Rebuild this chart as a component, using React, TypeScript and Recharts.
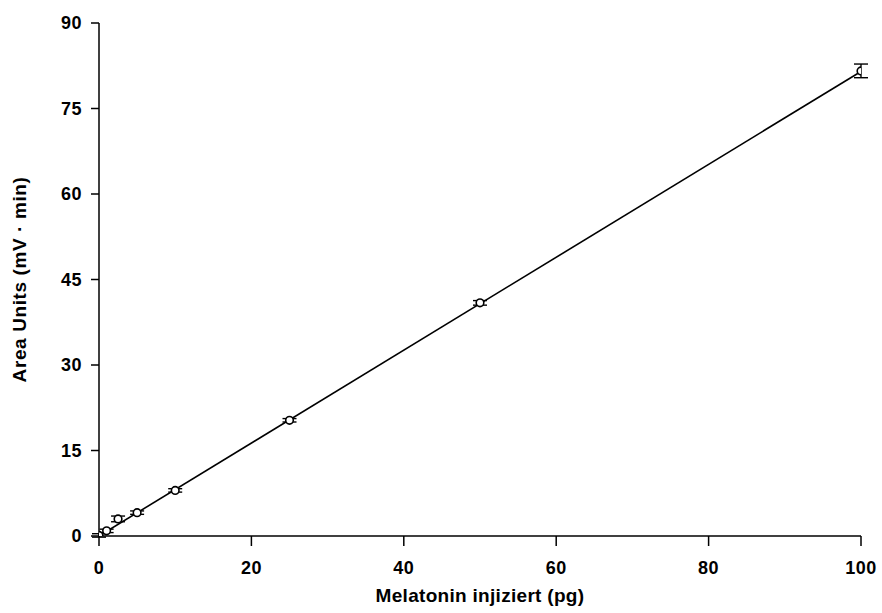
import React from 'react';
import {
  ComposedChart,
  XAxis,
  YAxis,
  Scatter,
  Line,
  ErrorBar,
  Label,
} from 'recharts';

// Injected melatonin amount (pg) and measured peak area (mV · min)
const doses = [0, 1, 2.5, 5, 10, 25, 50, 100];
const areaMeans = [0.1, 0.9, 3.0, 4.1, 8.0, 20.3, 40.9, 81.6];
const areaErrors = [0.3, 0.3, 0.5, 0.3, 0.3, 0.3, 0.4, 1.2];

// Calibration line end points
const fitDoses = [0, 100];
const fitAreas = [0, 81.5];

const xTicks = [0, 20, 40, 60, 80, 100];
const yTicks = [0, 15, 30, 45, 60, 75, 90];

const points = doses.map((x, i) => ({ x, y: areaMeans[i], err: areaErrors[i] }));
const fitLine = fitDoses.map((x, i) => ({ x, y: fitAreas[i] }));

const FONT = '"Liberation Sans", Arial, Helvetica, sans-serif';
const tickStyle = {
  fill: '#000',
  fontSize: 18,
  fontWeight: 700,
  fontFamily: FONT,
  letterSpacing: 0.5,
};

const OpenCircle = (props: any) => {
  const { cx, cy } = props;
  if (cx == null || cy == null) return null;
  return <circle cx={cx} cy={cy} r={3.8} fill="#fff" stroke="#000" strokeWidth={1.6} />;
};

// Rotated y-axis title centred on the axis box
const YTitle = (props: any) => {
  const { viewBox } = props;
  const x = viewBox.x + 19;
  const y = viewBox.y + viewBox.height / 2;
  return (
    <text
      x={x}
      y={y}
      transform={`rotate(-90, ${x}, ${y})`}
      textAnchor="middle"
      dominantBaseline="central"
      style={{ fill: '#000', fontSize: 19, fontWeight: 700, fontFamily: FONT, letterSpacing: 0.6 }}
    >
      Area Units (mV · min)
    </text>
  );
};

export default function App() {
  return (
    <div style={{ position: 'absolute', left: 0, top: 0, background: '#fff' }}>
      <ComposedChart
        width={882}
        height={613}
        margin={{ top: 23, right: 21, bottom: 0, left: 0 }}
      >
        <XAxis
          dataKey="x"
          type="number"
          domain={[0, 100]}
          ticks={xTicks}
          allowDataOverflow
          height={77}
          stroke="#000"
          strokeWidth={1.5}
          tickSize={10}
          tickMargin={15}
          tick={tickStyle}
          tickLine={{ stroke: '#000', strokeWidth: 1.5 }}
        >
          <Label
            value="Melatonin injiziert (pg)"
            position="insideBottom"
            offset={11}
            style={{ fill: '#000', fontSize: 19, fontWeight: 700, fontFamily: FONT, letterSpacing: 0.3 }}
          />
        </XAxis>
        <YAxis
          dataKey="y"
          type="number"
          domain={[0, 90]}
          ticks={yTicks}
          allowDataOverflow
          width={99}
          stroke="#000"
          strokeWidth={1.5}
          tickSize={8}
          tickMargin={9}
          tick={tickStyle}
          tickLine={{ stroke: '#000', strokeWidth: 1.5 }}
        >
          <Label content={<YTitle />} />
        </YAxis>
        <Line
          data={fitLine}
          dataKey="y"
          type="linear"
          stroke="#000"
          strokeWidth={1.6}
          dot={false}
          activeDot={false}
          isAnimationActive={false}
          legendType="none"
        />
        <Scatter
          data={points}
          dataKey="y"
          shape={<OpenCircle />}
          isAnimationActive={false}
        >
          <ErrorBar
            dataKey="err"
            direction="y"
            width={7}
            stroke="#000"
            strokeWidth={1.4}
            isAnimationActive={false}
          />
        </Scatter>
      </ComposedChart>
    </div>
  );
}
